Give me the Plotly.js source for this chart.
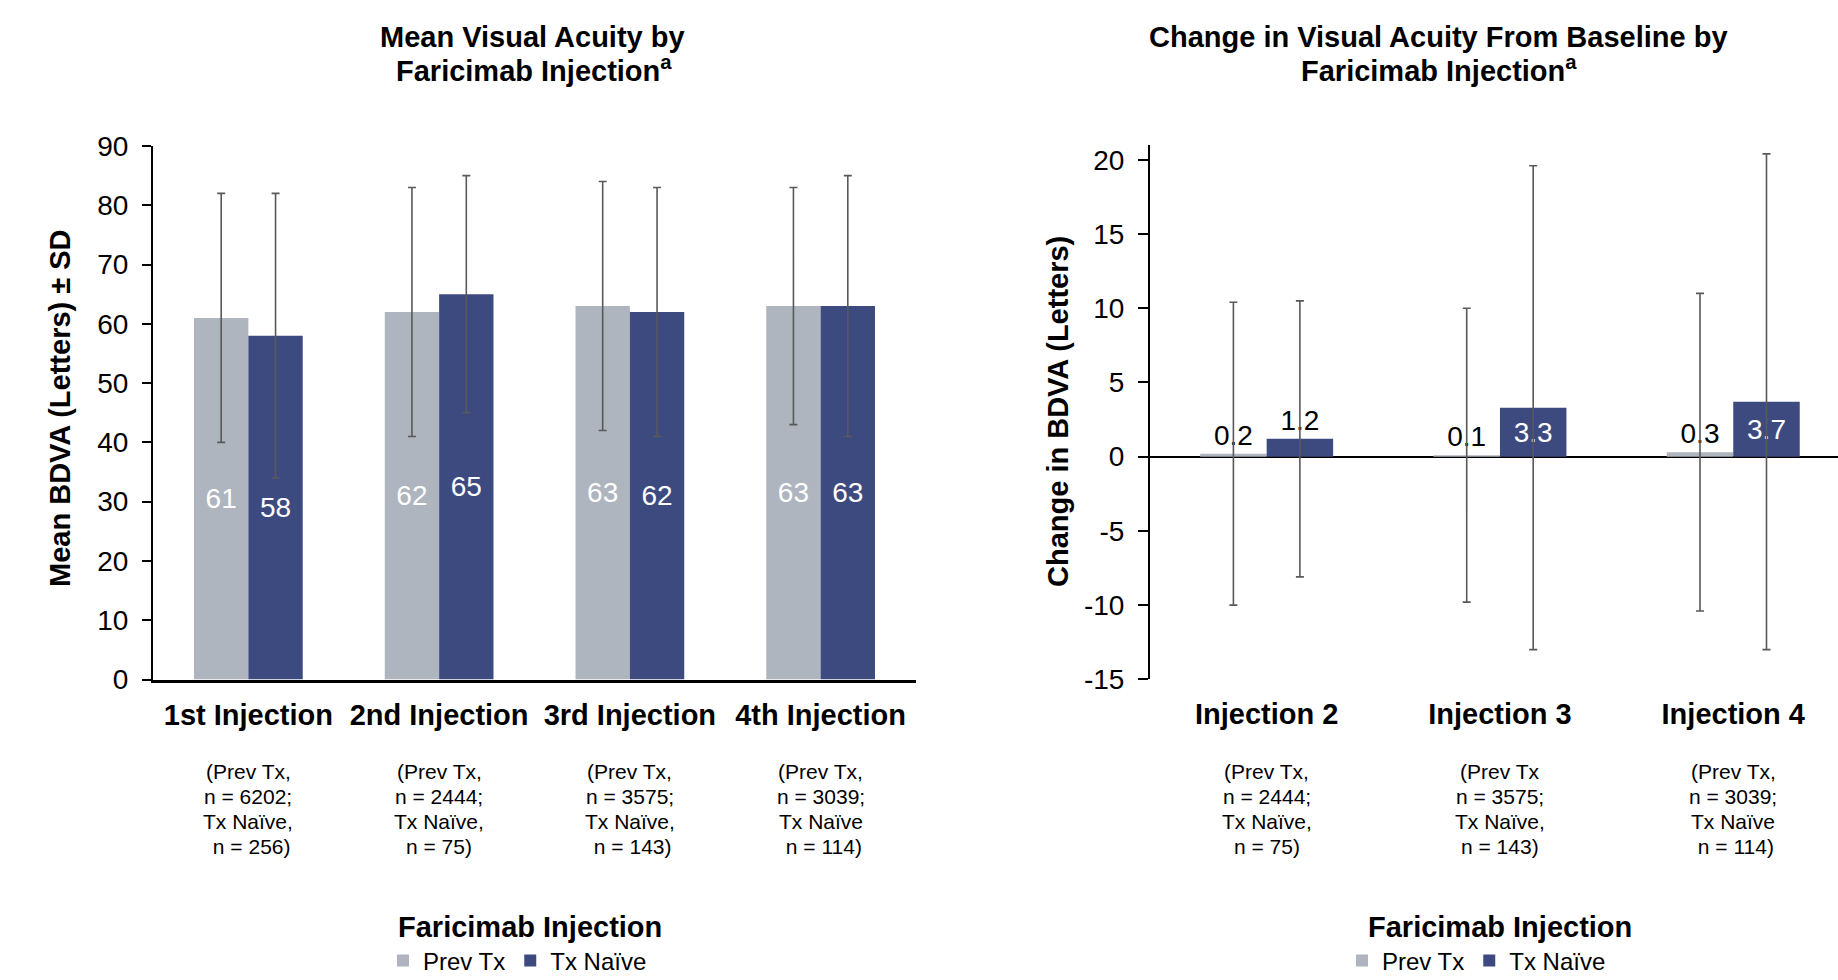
<!DOCTYPE html>
<html>
<head>
<meta charset="utf-8">
<script src="https://cdn.plot.ly/plotly-3.0.1.min.js"></script>
<style>html,body{margin:0;padding:0;background:#fff;overflow:hidden}#chart{width:1838px;height:980px}</style>
</head>
<body>
<div id="chart"></div>
<script>
// ---- Data ----
const categoriesLeft = ['1st Injection', '2nd Injection', '3rd Injection', '4th Injection'];
const prevTxMean = [61, 62, 63, 63];
const prevTxSD = [21, 21, 21, 20];
const txNaiveMean = [58, 65, 62, 63];
const txNaiveSD = [24, 20, 21, 22];
const nLabelsLeft = [
  ['(Prev Tx,', 'n = 6202;', 'Tx Naïve,', '\u00a0n = 256)'],
  ['(Prev Tx,', 'n = 2444;', 'Tx Naïve,', 'n = 75)'],
  ['(Prev Tx,', 'n = 3575;', 'Tx Naïve,', '\u00a0n = 143)'],
  ['(Prev Tx,', 'n = 3039;', 'Tx Naïve', '\u00a0n = 114)']
];

const categoriesRight = ['Injection 2', 'Injection 3', 'Injection 4'];
const prevTxChange = [0.2, 0.1, 0.3];
const prevTxChangeSD = [10.2, 9.9, 10.7];
const txNaiveChange = [1.2, 3.3, 3.7];
const txNaiveChangeSD = [9.3, 16.3, 16.7];
const txNaiveLabelPos = ['outside', 'inside', 'inside'];
const nLabelsRight = [
  ['(Prev Tx,', 'n = 2444;', 'Tx Naïve,', 'n = 75)'],
  ['(Prev Tx', 'n = 3575;', 'Tx Naïve,', 'n = 143)'],
  ['(Prev Tx,', 'n = 3039;', 'Tx Naïve', '\u00a0n = 114)']
];
const leftYTicks = [0, 10, 20, 30, 40, 50, 60, 70, 80, 90];
const rightYTickVals = [-15, -10, -5, 0, 5, 10, 15, 20];
const rightYTickText = ['-15', '-10', '-5', '0', '5', '10', '15', '20'];

const seriesNames = ['Prev Tx', 'Tx Naïve'];

// ---- Styles ----
const W = 1838, H = 980;
const FONT = 'Liberation Sans, Arial, Helvetica, sans-serif';
const GRAY = '#AEB5BE';
const NAVY = '#3D4A80';
const ERR = { type: 'data', color: '#595959', thickness: 1.6, width: 4 };
const py = px => (H - px) / H;
const pxX = px => px / W;

const traces = [
  {
    type: 'bar', name: seriesNames[0], x: categoriesLeft, y: prevTxMean,
    error_y: Object.assign({ array: prevTxSD }, ERR),
    marker: { color: GRAY },
    text: prevTxMean.map(String), textposition: 'inside', insidetextanchor: 'middle', textangle: 0,
    textfont: { family: FONT, size: 28, color: '#FFFFFF' },
    xaxis: 'x', yaxis: 'y', legend: 'legend', hoverinfo: 'skip'
  },
  {
    type: 'bar', name: seriesNames[1], x: categoriesLeft, y: txNaiveMean,
    error_y: Object.assign({ array: txNaiveSD }, ERR),
    marker: { color: NAVY },
    text: txNaiveMean.map(String), textposition: 'inside', insidetextanchor: 'middle', textangle: 0,
    textfont: { family: FONT, size: 28, color: '#FFFFFF' },
    xaxis: 'x', yaxis: 'y', legend: 'legend', hoverinfo: 'skip'
  },
  {
    type: 'bar', name: seriesNames[0], x: categoriesRight, y: prevTxChange,
    error_y: Object.assign({ array: prevTxChangeSD }, ERR),
    marker: { color: GRAY },
    text: prevTxChange.map(v => v.toFixed(1)), textposition: 'outside', textangle: 0,
    outsidetextfont: { family: FONT, size: 28, color: '#000000' },
    textfont: { family: FONT, size: 28, color: '#000000' },
    cliponaxis: false,
    xaxis: 'x2', yaxis: 'y2', legend: 'legend2', hoverinfo: 'skip'
  },
  {
    type: 'bar', name: seriesNames[1], x: categoriesRight, y: txNaiveChange,
    error_y: Object.assign({ array: txNaiveChangeSD }, ERR),
    marker: { color: NAVY },
    text: txNaiveChange.map(v => v.toFixed(1)), textposition: txNaiveLabelPos, insidetextanchor: 'middle', textangle: 0,
    insidetextfont: { family: FONT, size: 28, color: '#FFFFFF' },
    outsidetextfont: { family: FONT, size: 28, color: '#000000' },
    textfont: { family: FONT, size: 28 },
    cliponaxis: false,
    xaxis: 'x2', yaxis: 'y2', legend: 'legend2', hoverinfo: 'skip'
  }
];

const boldFont = (s) => ({ family: FONT, size: s, color: '#000', weight: 'bold' });
const annotations = [];
function ann(text, xpx, ypx, size, bold, extra) {
  annotations.push(Object.assign({
    text: text, xref: 'paper', yref: 'paper', x: pxX(xpx), y: py(ypx),
    xanchor: 'center', yanchor: 'middle', showarrow: false,
    font: bold ? boldFont(size) : { family: FONT, size: size, color: '#000' }
  }, extra || {}));
}
// chart titles
ann('Mean Visual Acuity by', 532, 37, 29, true);
ann('Faricimab Injection<sup>a</sup>', 534, 69, 29, true);
ann('Change in Visual Acuity From Baseline by', 1438, 37, 29, true);
ann('Faricimab Injection<sup>a</sup>', 1439, 69, 29, true);
// axis titles
ann('Faricimab Injection', 530, 927, 29, true);
ann('Faricimab Injection', 1500, 927, 29, true);
ann('Mean BDVA (Letters) ± SD', 60, 408, 29, true, { textangle: -90 });
ann('Change in BDVA (Letters)', 1058, 412, 29, true, { textangle: -90 });
// n labels under categories (one annotation per text line)
const nLineY = [771, 796, 821, 846];
function nLabels(cats, labels, xref) {
  cats.forEach((c, i) => {
    labels[i].forEach((line, j) => {
      annotations.push({ text: line, xref: xref, yref: 'paper', x: c, y: py(nLineY[j]),
        xanchor: 'center', yanchor: 'middle', showarrow: false,
        font: { family: FONT, size: 21, color: '#000' } });
    });
  });
}
nLabels(categoriesLeft, nLabelsLeft, 'x');
nLabels(categoriesRight, nLabelsRight, 'x2');

const layout = {
  width: W, height: H,
  margin: { l: 0, r: 0, t: 0, b: 0, pad: 0, autoexpand: false },
  paper_bgcolor: '#FFFFFF', plot_bgcolor: '#FFFFFF',
  font: { family: FONT, color: '#000' },
  barmode: 'group', bargap: 0.43, bargroupgap: 0,
  showlegend: true,
  xaxis: {
    domain: [pxX(153), pxX(916)], anchor: 'y', type: 'category', range: [-0.5, 3.5],
    showline: true, linecolor: '#000', linewidth: 3, ticks: '', showgrid: false, zeroline: false,
    tickfont: boldFont(29), ticklabelstandoff: 8, fixedrange: true
  },
  yaxis: {
    domain: [py(679.5), py(146)], anchor: 'x', range: [0, 90],
    tickvals: leftYTicks, ticks: 'outside', ticklen: 9, tickwidth: 2, tickcolor: '#000',
    showline: true, linecolor: '#000', linewidth: 2, showgrid: false, zeroline: false,
    tickfont: { family: FONT, size: 28, color: '#000' }, ticklabelstandoff: 8, fixedrange: true
  },
  xaxis2: {
    domain: [pxX(1150), 1], anchor: 'y2', type: 'category', range: [-0.5, 2.449],
    showline: false, ticks: '', showgrid: false, zeroline: false,
    tickfont: boldFont(29), ticklabelstandoff: 15, fixedrange: true
  },
  yaxis2: {
    domain: [py(679.3), py(145)], anchor: 'x2', range: [-15, 21],
    tickvals: rightYTickVals, ticktext: rightYTickText,
    ticks: 'outside', ticklen: 10, tickwidth: 2, tickcolor: '#000',
    showline: true, linecolor: '#000', linewidth: 2, showgrid: false,
    zeroline: true, zerolinecolor: '#000', zerolinewidth: 2,
    tickfont: { family: FONT, size: 28, color: '#000' }, ticklabelstandoff: 8, fixedrange: true
  },
  legend: {
    orientation: 'h', xref: 'container', yref: 'container',
    x: pxX(383), xanchor: 'left', y: py(961), yanchor: 'middle',
    font: { family: FONT, size: 24, color: '#000' }, bgcolor: 'rgba(0,0,0,0)', traceorder: 'normal'
  },
  legend2: {
    orientation: 'h', xref: 'container', yref: 'container',
    x: pxX(1342), xanchor: 'left', y: py(961), yanchor: 'middle',
    font: { family: FONT, size: 24, color: '#000' }, bgcolor: 'rgba(0,0,0,0)', traceorder: 'normal'
  },
  annotations: annotations
};

Plotly.newPlot('chart', traces, layout, { displayModeBar: false, staticPlot: true, responsive: false });
</script>
</body>
</html>
